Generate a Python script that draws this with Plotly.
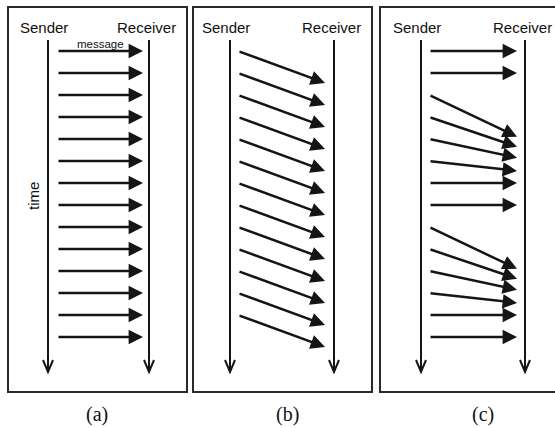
import plotly.graph_objects as go

# ---------------- data (time slots) ----------------
panel_labels = ["(a)", "(b)", "(c)"]
a_send = [0, 1, 2, 3, 4, 5, 6, 7, 8, 9, 10, 11, 12, 13]
a_recv = [0, 1, 2, 3, 4, 5, 6, 7, 8, 9, 10, 11, 12, 13]
b_send = [0, 1, 2, 3, 4, 5, 6, 7, 8, 9, 10, 11, 12]
b_recv = [1.45, 2.45, 3.45, 4.45, 5.45, 6.45, 7.45, 8.45, 9.45, 10.45, 11.45, 12.45, 13.45]
c_send = [0, 1, 2, 3, 4, 5, 6, 7, 8, 9, 10, 11, 12, 13]
c_recv = [0, 1, 3.9, 4.35, 4.85, 5.45, 6, 7, 9.9, 10.35, 10.85, 11.45, 12, 13]

# ---------------- layout constants ----------------
W, H = 555, 428
Y0_PX, SLOT_PX = 51, 22            # pixel of slot 0 and pixels per slot
def px_to_t(p):
    return (p - Y0_PX) / SLOT_PX

panels = [
    dict(box=(8, 187), sender=48, receiver=149, x0=57, x1=143, send=a_send, recv=a_recv, label_x=97),
    dict(box=(193, 372), sender=230, receiver=334, x0=238, x1=325, send=b_send, recv=b_recv, label_x=287),
    dict(box=(380, 565), sender=421, receiver=525, x0=429, x1=517, send=c_send, recv=c_recv, label_x=483),
]
BOX_TOP, BOX_BOT = px_to_t(7), px_to_t(392)
LIFE_TOP, LIFE_BOT = px_to_t(40), px_to_t(372)
HEAD_H = 12 / SLOT_PX
HEAD_W = 5
INK = "#151515"

fig = go.Figure()
shapes = []
annotations = []

for i, p in enumerate(panels):
    bx0, bx1 = p["box"]
    shapes.append(dict(type="rect", xref="x", yref="y", x0=bx0, x1=bx1, y0=BOX_TOP, y1=BOX_BOT,
                       line=dict(color="#2a2a2a", width=2), layer="above"))
    for lx in (p["sender"], p["receiver"]):
        shapes.append(dict(type="line", xref="x", yref="y", x0=lx, x1=lx, y0=LIFE_TOP, y1=LIFE_BOT,
                           line=dict(color=INK, width=2)))
        # open chevron head
        shapes.append(dict(type="path", xref="x", yref="y",
                           path=f"M {lx-HEAD_W},{LIFE_BOT-HEAD_H} L {lx},{LIFE_BOT} L {lx+HEAD_W},{LIFE_BOT-HEAD_H}",
                           line=dict(color=INK, width=2)))
    for s, r in zip(p["send"], p["recv"]):
        annotations.append(dict(x=p["x1"], y=r, ax=p["x0"], ay=s, xref="x", yref="y",
                                axref="x", ayref="y", showarrow=True, arrowhead=2,
                                arrowsize=1.15, arrowwidth=2.5, arrowcolor=INK, text="",
                                standoff=0, startstandoff=0))
    annotations.append(dict(x=p["sender"] - 4, y=px_to_t(27), xref="x", yref="y", text="Sender",
                            showarrow=False, font=dict(family="Liberation Sans", size=15, color="#111")))
    annotations.append(dict(x=p["receiver"] - 3, y=px_to_t(27), xref="x", yref="y", text="Receiver",
                            showarrow=False, font=dict(family="Liberation Sans", size=15, color="#111")))
    annotations.append(dict(x=p["label_x"], y=px_to_t(414), xref="x", yref="y",
                            text=panel_labels[i], showarrow=False,
                            font=dict(family="Liberation Serif", size=20, color="#111")))

annotations.append(dict(x=100, y=px_to_t(44), xref="x", yref="y", text="message", showarrow=False,
                        font=dict(family="Liberation Sans", size=11.5, color="#111")))
annotations.append(dict(x=33, y=px_to_t(196), xref="x", yref="y", text="time", showarrow=False,
                        textangle=-90, font=dict(family="Liberation Sans", size=15, color="#111")))

fig.update_layout(
    width=W, height=H, autosize=False,
    margin=dict(l=0, r=0, t=0, b=0),
    paper_bgcolor="white", plot_bgcolor="white",
    showlegend=False,
    xaxis=dict(range=[0, W], visible=False, fixedrange=True),
    yaxis=dict(range=[px_to_t(H), px_to_t(0)], visible=False, fixedrange=True),
    shapes=shapes, annotations=annotations,
)
fig.write_html("out.html", config={"displayModeBar": False},
               post_script="document.body.style.margin='0px';document.body.style.overflow='hidden';")
